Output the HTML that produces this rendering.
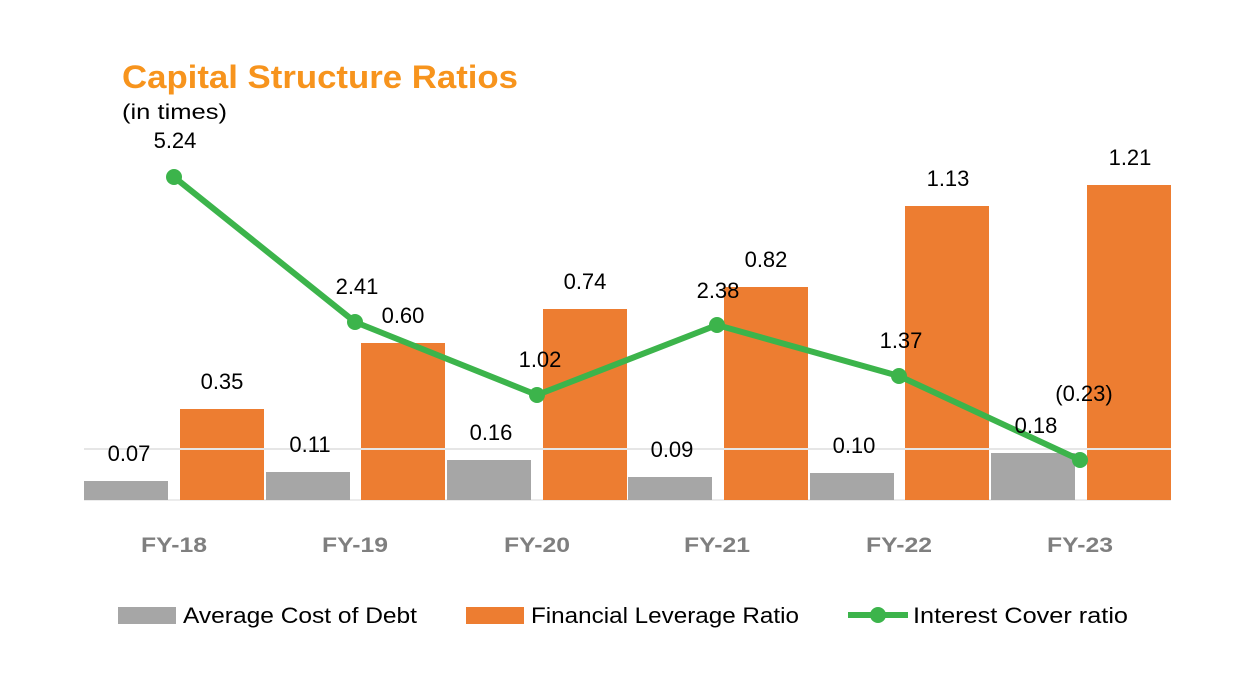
<!DOCTYPE html>
<html><head><meta charset="utf-8"><style>
body{margin:0;background:#fff;}
svg text{font-family:"Liberation Sans",sans-serif;}
</style></head><body>
<svg width="1256" height="691" xmlns="http://www.w3.org/2000/svg">
<rect width="1256" height="691" fill="#fff"/>
<text x="122" y="88" font-size="32" font-weight="bold" fill="#f7941d" textLength="396" lengthAdjust="spacingAndGlyphs">Capital Structure Ratios</text>
<text x="122" y="119" font-size="21" fill="#000" textLength="105" lengthAdjust="spacingAndGlyphs">(in times)</text>
<line x1="84" y1="500" x2="1171" y2="500" stroke="#d9d9d9" stroke-width="1"/>
<g fill="#a6a6a6">
<rect x="84" y="481" width="84" height="19"/>
<rect x="266" y="472" width="84" height="28"/>
<rect x="447" y="460" width="84" height="40"/>
<rect x="628" y="477" width="84" height="23"/>
<rect x="810" y="473" width="84" height="27"/>
<rect x="991" y="453" width="84" height="47"/>
</g>
<g fill="#ed7d31">
<rect x="180" y="409" width="84" height="91"/>
<rect x="361" y="343" width="84" height="157"/>
<rect x="543" y="309" width="84" height="191"/>
<rect x="724" y="287" width="84" height="213"/>
<rect x="905" y="206" width="84" height="294"/>
<rect x="1087" y="185" width="84" height="315"/>
</g>
<line x1="84" y1="449" x2="1171" y2="449" stroke="#e6e6e6" stroke-width="2"/>
<polyline points="174,177 355,322 537,395 717,325 899,376 1080,460" fill="none" stroke="#3cb44b" stroke-width="6" stroke-linejoin="round"/>
<g fill="#3cb44b">
<circle cx="174" cy="177" r="8"/><circle cx="355" cy="322" r="8"/><circle cx="537" cy="395" r="8"/>
<circle cx="717" cy="325" r="8"/><circle cx="899" cy="376" r="8"/><circle cx="1080" cy="460" r="8"/>
</g>
<g font-size="22" fill="#000" text-anchor="middle">
<text x="129" y="461">0.07</text><text x="222" y="389">0.35</text>
<text x="310" y="452">0.11</text><text x="403" y="323">0.60</text>
<text x="491" y="440">0.16</text><text x="585" y="289">0.74</text>
<text x="672" y="457">0.09</text><text x="766" y="267">0.82</text>
<text x="854" y="453">0.10</text><text x="948" y="186">1.13</text>
<text x="1036" y="433">0.18</text><text x="1130" y="165">1.21</text>
<text x="175" y="148">5.24</text><text x="357" y="294">2.41</text>
<text x="540" y="367">1.02</text><text x="718" y="298">2.38</text>
<text x="901" y="348">1.37</text><text x="1084" y="401">(0.23)</text>
</g>
<g font-size="21" font-weight="bold" fill="#7f7f7f" text-anchor="middle">
<text x="174" y="552" textLength="66" lengthAdjust="spacingAndGlyphs">FY-18</text>
<text x="355" y="552" textLength="66" lengthAdjust="spacingAndGlyphs">FY-19</text>
<text x="537" y="552" textLength="66" lengthAdjust="spacingAndGlyphs">FY-20</text>
<text x="717" y="552" textLength="66" lengthAdjust="spacingAndGlyphs">FY-21</text>
<text x="899" y="552" textLength="66" lengthAdjust="spacingAndGlyphs">FY-22</text>
<text x="1080" y="552" textLength="66" lengthAdjust="spacingAndGlyphs">FY-23</text>
</g>
<rect x="118" y="607" width="58" height="17" fill="#a6a6a6"/>
<text x="183" y="623" font-size="22" fill="#000" textLength="234" lengthAdjust="spacingAndGlyphs">Average Cost of Debt</text>
<rect x="466" y="607" width="58" height="17" fill="#ed7d31"/>
<text x="531" y="623" font-size="22" fill="#000" textLength="268" lengthAdjust="spacingAndGlyphs">Financial Leverage Ratio</text>
<line x1="848" y1="615" x2="908" y2="615" stroke="#3cb44b" stroke-width="6"/>
<circle cx="878" cy="615" r="8" fill="#3cb44b"/>
<text x="913" y="623" font-size="22" fill="#000" textLength="215" lengthAdjust="spacingAndGlyphs">Interest Cover ratio</text>
</svg>
</body></html>
